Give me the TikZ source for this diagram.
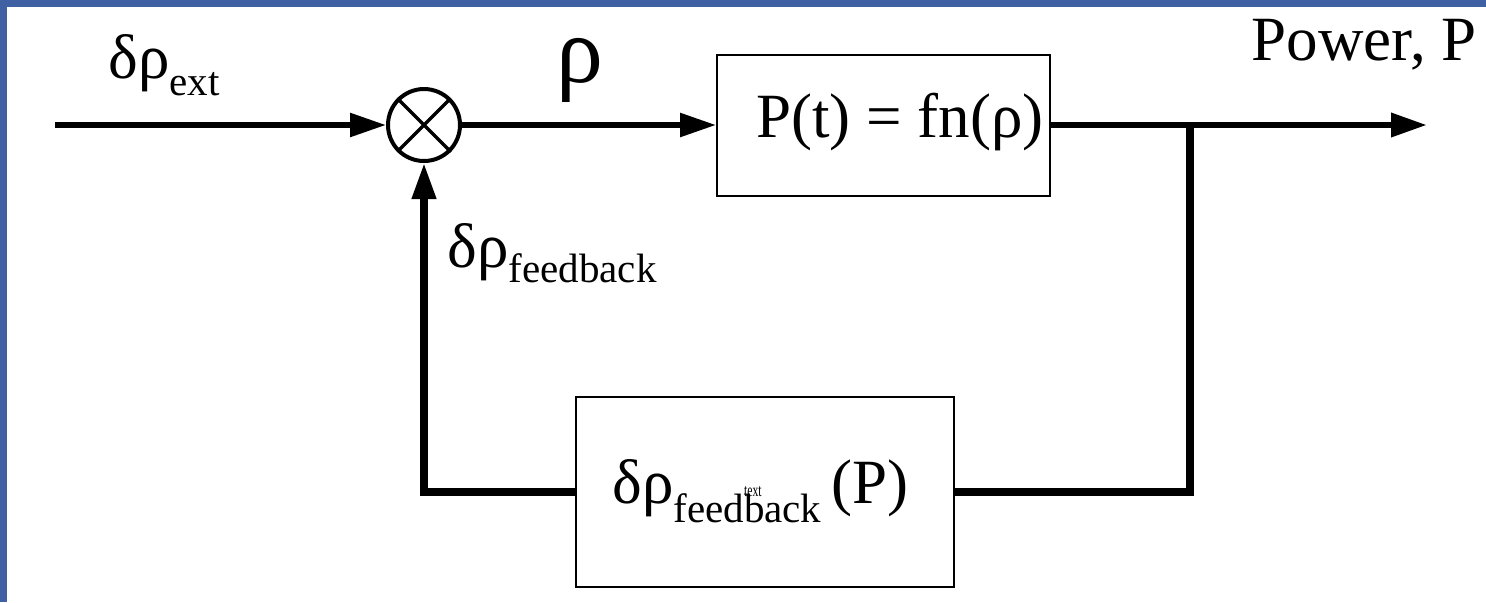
\documentclass[tikz,border=0pt]{standalone}
\usepackage{fontspec}
\setmainfont{Liberation Serif}
\usetikzlibrary{arrows.meta}
\definecolor{frameblue}{RGB}{64,96,164}
% subscript set lower and smaller than the running text
\newcommand\lowsub[2][8.5pt]{\raisebox{-#1}{\fontsize{20.5pt}{20.5pt}\selectfont #2}}
\tikzset{
  lbl/.style={inner sep=0pt, font=\fontsize{31.5pt}{34pt}\selectfont},
  biglbl/.style={inner sep=0pt, font=\fontsize{47pt}{50pt}\selectfont},
  blockbox/.style={draw, line width=1pt, rectangle, inner sep=0pt},
  sumnode/.style={draw, circle, line width=2pt, minimum size=36pt, inner sep=0pt},
  tip/.style={-{Triangle[length=18pt,width=11.5pt]}},
  fwdline/.style={line width=2.8pt},
  outline/.style={line width=3.3pt},
  fbline/.style={line width=3.6pt}
}
\begin{document}
\begin{tikzpicture}[x=0.5pt,y=-0.5pt]
  \useasboundingbox (0,0) rectangle (1486,602);
  % slide frame
  \fill[white] (0,0) rectangle (1486,602);
  \fill[frameblue] (0,0) rectangle (1486,7);
  \fill[frameblue] (0,0) rectangle (7,602);

  % blocks
  \node[sumnode] (sum) at (424,125) {};
  \draw[line width=1.7pt] (sum.45) -- (sum.225) (sum.135) -- (sum.315);
  \node[blockbox, minimum width=166.5pt, minimum height=70.5pt] (plant) at (883.5,125) {};
  \node[lbl, anchor=base] (plantlbl) at (900,137) {P(t) = fn(ρ)};
  \node[blockbox, minimum width=189pt, minimum height=95pt] (fbbox) at (765,492) {};
  \node[lbl, anchor=base west] (fblbl) at (612,503)
    {δρ\lowsub[9.5pt]{feed\rlap{\raisebox{13pt}{\scalebox{0.65}[1]{\fontsize{9pt}{9pt}\selectfont text}}}back}\,(P)};

  % labels on the signals
  \node[lbl, anchor=base west] (extlbl) at (108,78) {δρ\lowsub{ext}};
  \node[biglbl, anchor=base west] (rholbl) at (556,82) {ρ};
  \node[lbl, anchor=base west] (feedlbl) at (447,267) {δρ\lowsub[7.5pt]{feedback}};
  \node[lbl, anchor=base east] (powlbl) at (1477,60) {Power, P};

  % signal path coordinates
  \coordinate (src) at (55,125);
  \coordinate (split) at (1190,125);
  \coordinate (sink) at (1427,125);
  \coordinate (splitlow) at (1190,492);
  \coordinate (fbcorner) at (424,492);

  % forward path
  \draw[fwdline, tip] (src) -- (sum.west);
  \draw[fwdline, tip] (sum.east) -- (plant.west);
  \draw[outline] (plant.east) -- (split);
  \draw[outline, tip] (split) -- (sink);

  % feedback path
  \draw[fbline] (split) -- (splitlow) -- (fbbox.east);
  \draw[fbline, tip] (fbbox.west) -- (fbcorner) -- (sum.south);
\end{tikzpicture}
\end{document}
